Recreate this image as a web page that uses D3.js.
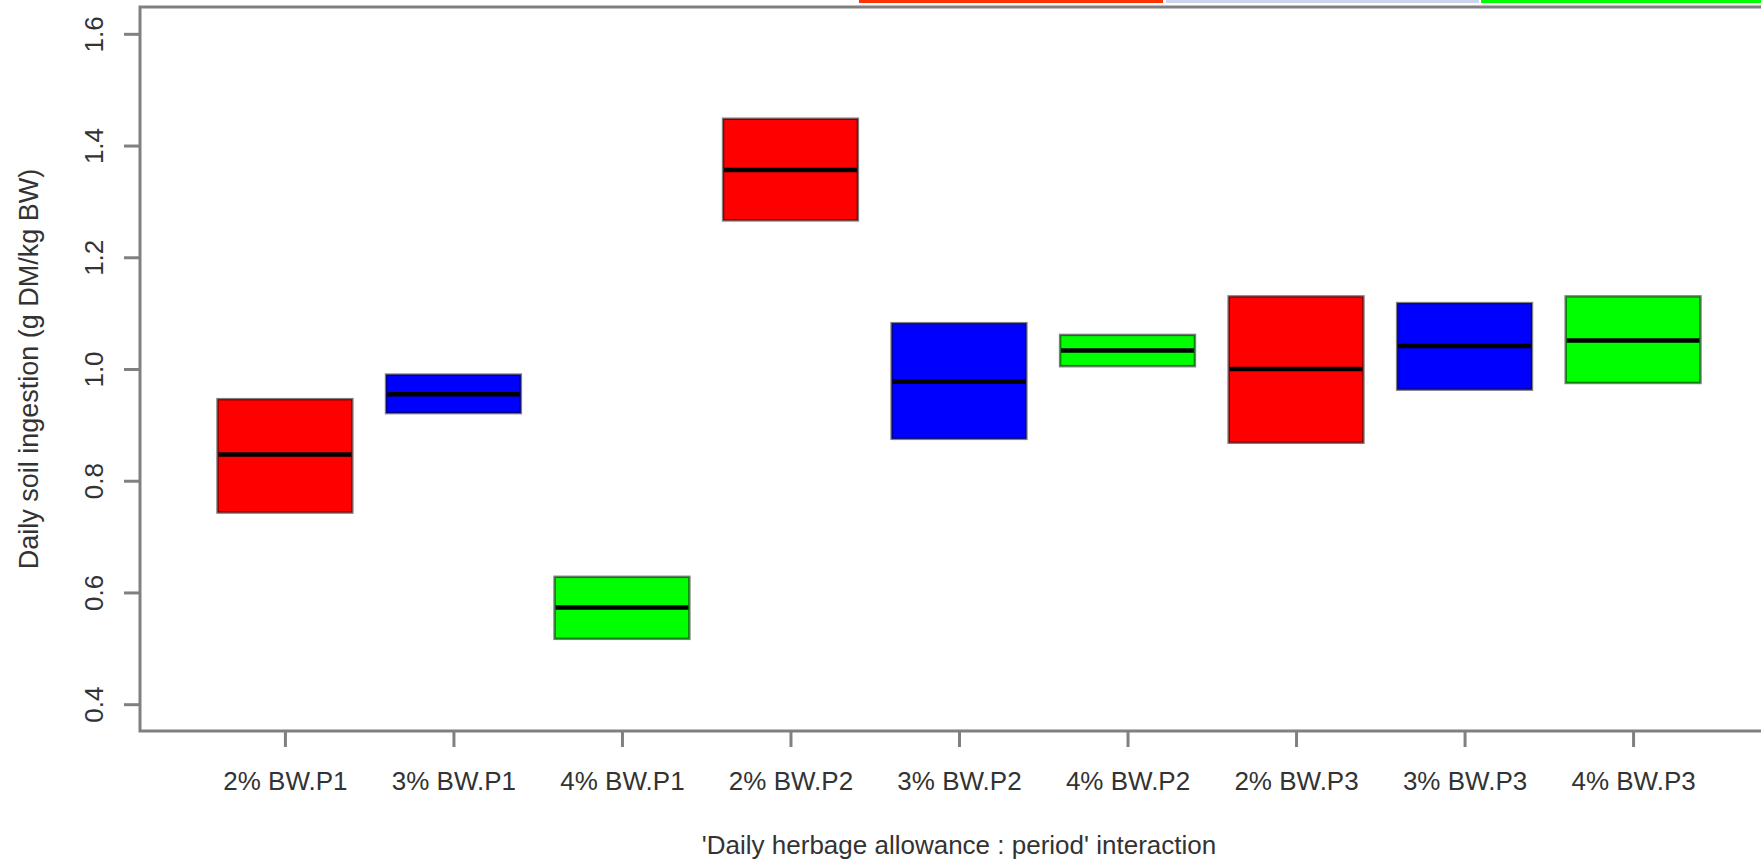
<!DOCTYPE html>
<html>
<head>
<meta charset="utf-8">
<script src="https://cdn.jsdelivr.net/npm/d3@7"></script>
<style>
  html, body { margin: 0; padding: 0; background: #fff; }
  svg { display: block; }
  text { font-family: "Liberation Sans", Arial, sans-serif; fill: #333; }
</style>
</head>
<body>
<svg id="chart" width="1761" height="859"></svg>
<script>
// Soil ingestion by daily herbage allowance x period
const categories = ["2% BW.P1", "3% BW.P1", "4% BW.P1",
                    "2% BW.P2", "3% BW.P2", "4% BW.P2",
                    "2% BW.P3", "3% BW.P3", "4% BW.P3"];
const allowance = ["2%", "3%", "4%", "2%", "3%", "4%", "2%", "3%", "4%"];
const lowerValues  = [0.743, 0.921, 0.517, 1.266, 0.875, 1.005, 0.868, 0.963, 0.975];
const medianValues = [0.847, 0.955, 0.573, 1.356, 0.977, 1.033, 1.000, 1.041, 1.051];
const upperValues  = [0.946, 0.990, 0.628, 1.448, 1.082, 1.061, 1.130, 1.118, 1.130];
const yTicks = [0.4, 0.6, 0.8, 1.0, 1.2, 1.4, 1.6];
const yLimits = [0.4, 1.6];
const xTitle = "'Daily herbage allowance : period' interaction";
const yTitle = "Daily soil ingestion (g DM/kg BW)";

const fillColor = d3.scaleOrdinal()
  .domain(["2%", "3%", "4%"])
  .range(["#ff0000", "#0000ff", "#00ff00"]);

const svg = d3.select("#chart");
const plot = { left: 140, top: 7, right: 1778, bottom: 731 };
const axisGrey = "#808080";

// R-style 4% padding around the data range
const n = categories.length;
const xPad = n * 0.04;
const x = d3.scaleLinear()
  .domain([0.5 - xPad, n + 0.5 + xPad])
  .range([plot.left, plot.right]);
const yPad = (yLimits[1] - yLimits[0]) * 0.04;
const y = d3.scaleLinear()
  .domain([yLimits[0] - yPad, yLimits[1] + yPad])
  .range([plot.bottom, plot.top]);

// strip of page header colours along the top edge
const header = svg.append("g");
[[859, 1163, "#ff3300"], [1166, 1479, "#ccd5eb"], [1481, 1761, "#00ff00"]]
  .forEach(([a, b, c]) => header.append("rect")
    .attr("x", a).attr("y", 0).attr("width", b - a).attr("height", 3).attr("fill", c));

// boxes
const boxHalf = 0.4;
const boxes = svg.append("g");
categories.forEach((cat, i) => {
  const cx = i + 1;
  boxes.append("rect")
    .attr("x", x(cx - boxHalf))
    .attr("y", y(upperValues[i]))
    .attr("width", x(cx + boxHalf) - x(cx - boxHalf))
    .attr("height", y(lowerValues[i]) - y(upperValues[i]))
    .attr("fill", fillColor(allowance[i]))
    .attr("stroke", "#000")
    .attr("stroke-opacity", 0.5)
    .attr("stroke-width", 2.5);
  boxes.append("line")
    .attr("x1", x(cx - boxHalf) + 1)
    .attr("x2", x(cx + boxHalf) - 1)
    .attr("y1", y(medianValues[i]))
    .attr("y2", y(medianValues[i]))
    .attr("stroke", "#000")
    .attr("stroke-width", 4.5);
});

// frame
const frame = svg.append("g")
  .attr("stroke", axisGrey).attr("stroke-width", 3).attr("fill", "none");
frame.append("path")
  .attr("d", `M${plot.right},${plot.top}H${plot.left}V${plot.bottom}H${plot.right}`);

// y axis
const yAxis = d3.axisLeft(y)
  .tickValues(yTicks)
  .tickSize(16)
  .tickFormat(d3.format(".1f"));
const gy = svg.append("g")
  .attr("transform", `translate(${plot.left},0)`)
  .call(yAxis);
gy.select(".domain").remove();
gy.selectAll(".tick line").attr("stroke", axisGrey).attr("stroke-width", 3);
gy.selectAll(".tick text")
  .attr("x", null).attr("dy", null)
  .attr("transform", "translate(-37,0) rotate(-90)")
  .attr("text-anchor", "middle")
  .attr("font-size", 26)
  .attr("fill", "#333")
  .style("font-family", "'Liberation Sans', Arial, sans-serif");

// x axis
const xAxis = d3.axisBottom(x)
  .tickValues(d3.range(1, n + 1))
  .tickSize(16)
  .tickFormat(d => categories[d - 1]);
const gx = svg.append("g")
  .attr("transform", `translate(0,${plot.bottom})`)
  .call(xAxis);
gx.select(".domain").remove();
gx.selectAll(".tick line").attr("stroke", axisGrey).attr("stroke-width", 3);
gx.selectAll(".tick text")
  .attr("y", 59).attr("dy", null)
  .attr("font-size", 26)
  .attr("fill", "#333")
  .style("font-family", "'Liberation Sans', Arial, sans-serif");

// axis titles
svg.append("text")
  .attr("x", (plot.left + plot.right) / 2)
  .attr("y", 854)
  .attr("text-anchor", "middle")
  .attr("font-size", 26)
  .text(xTitle);
svg.append("text")
  .attr("transform", `translate(38,${(plot.top + plot.bottom) / 2}) rotate(-90)`)
  .attr("text-anchor", "middle")
  .attr("font-size", 27)
  .text(yTitle);
</script>
</body>
</html>
